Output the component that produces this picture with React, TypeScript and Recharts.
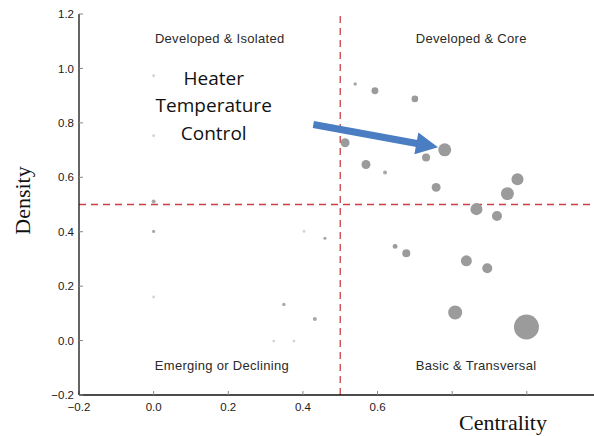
import { ScatterChart, Scatter, XAxis, YAxis, ZAxis, ReferenceLine, ReferenceDot } from "recharts";

// strategic diagram: centrality vs density, bubble weight ~ theme size
const xTicks = [-0.2, 0, 0.2, 0.4, 0.6, 0.8, 1.0];
const xTickLabels = ["−0.2", "0.0", "0.2", "0.4", "0.6", "", ""];
const yTicks = [-0.2, 0, 0.2, 0.4, 0.6, 0.8, 1.0, 1.2];
const yTickLabels = ["−0.2", "0.0", "0.2", "0.4", "0.6", "0.8", "1.0", "1.2"];

const majorThemes = [
  { centrality: 0.593, density: 0.918, weight: 12 },
  { centrality: 0.7, density: 0.888, weight: 11 },
  { centrality: 0.513, density: 0.727, weight: 20 },
  { centrality: 0.78, density: 0.701, weight: 42 },
  { centrality: 0.73, density: 0.673, weight: 16 },
  { centrality: 0.569, density: 0.647, weight: 20 },
  { centrality: 0.757, density: 0.563, weight: 20 },
  { centrality: 0.975, density: 0.593, weight: 36 },
  { centrality: 0.948, density: 0.54, weight: 42 },
  { centrality: 0.865, density: 0.483, weight: 36 },
  { centrality: 0.92, density: 0.458, weight: 25 },
  { centrality: 0.647, density: 0.346, weight: 6 },
  { centrality: 0.677, density: 0.321, weight: 16 },
  { centrality: 0.838, density: 0.293, weight: 30 },
  { centrality: 0.894, density: 0.266, weight: 25 },
  { centrality: 0.808, density: 0.103, weight: 49 },
  { centrality: 0.999, density: 0.05, weight: 156 },
];

const minorThemes = [
  { centrality: 0.54, density: 0.943, weight: 3 },
  { centrality: 0.62, density: 0.618, weight: 4 },
  { centrality: 0.0, density: 0.511, weight: 4 },
  { centrality: 0.0, density: 0.401, weight: 2.5 },
  { centrality: 0.459, density: 0.376, weight: 2.5 },
  { centrality: 0.349, density: 0.133, weight: 3 },
  { centrality: 0.432, density: 0.079, weight: 4 },
];

const faintThemes = [
  { centrality: 0.0, density: 0.973, weight: 2 },
  { centrality: 0.0, density: 0.753, weight: 2 },
  { centrality: 0.0, density: 0.16, weight: 2 },
  { centrality: 0.403, density: 0.401, weight: 2 },
  { centrality: 0.322, density: -0.002, weight: 2 },
  { centrality: 0.376, density: -0.002, weight: 2 },
];

const quadrants = [
  { name: "Developed & Isolated", centrality: 0.177, density: 1.11 },
  { name: "Developed & Core", centrality: 0.851, density: 1.11 },
  { name: "Emerging or Declining", centrality: 0.183, density: -0.09 },
  { name: "Basic & Transversal", centrality: 0.864, density: -0.09 },
];

const calloutLines = ["Heater", "Temperature", "Control"];
const calloutAt = { centrality: 0.161, density: 0.864 };
const arrowFrom = { centrality: 0.428, density: 0.794 };
const arrowTo = { centrality: 0.762, density: 0.71 };

const tickStyle = { fontFamily: "Liberation Sans, Arial, sans-serif", fontSize: 11.5, fill: "#1a1a1a" };

const Arrow = (p: any) => {
  const { x1, y1, x2, y2 } = p;
  const dx = x2 - x1;
  const dy = y2 - y1;
  const len = Math.sqrt(dx * dx + dy * dy);
  const ux = dx / len;
  const uy = dy / len;
  const headLen = 22;
  const bx = x2 - ux * headLen;
  const by = y2 - uy * headLen;
  const hw = 11;
  const pts = `${x2},${y2} ${bx - uy * hw},${by + ux * hw} ${bx + uy * hw},${by - ux * hw}`;
  return (
    <g>
      <line x1={x1} y1={y1} x2={bx + ux * 2} y2={by + uy * 2} stroke="#4a7dc2" strokeWidth={7} />
      <polygon points={pts} fill="#4a7dc2" />
    </g>
  );
};

export default function App() {
  return (
    <div style={{ position: "absolute", left: 0, top: 0, background: "#fff" }}>
      <ScatterChart width={594} height={436} margin={{ top: 14, right: 0, bottom: 0, left: 0 }}>
        <XAxis
          type="number"
          dataKey="centrality"
          domain={[-0.2, 1.18]}
          ticks={xTicks}
          tickFormatter={(_v: number, i: number) => xTickLabels[i]}
          allowDataOverflow
          height={41}
          axisLine={{ stroke: "#111", strokeWidth: 1.3 }}
          tickLine={{ stroke: "#888" }}
          tickSize={-4}
          tickMargin={12}
          tick={tickStyle}
          label={{
            content: ({ viewBox }: any) => (
              <text
                x={viewBox.x + 424}
                y={viewBox.y + 35}
                textAnchor="middle"
                fontFamily="Liberation Serif, Times New Roman, serif"
                fontSize={22}
                fill="#111"
              >
                Centrality
              </text>
            ),
          }}
        />
        <XAxis
          xAxisId="top"
          orientation="top"
          type="number"
          dataKey="centrality"
          domain={[-0.2, 1.18]}
          ticks={xTicks}
          tickFormatter={() => ""}
          allowDataOverflow
          height={0}
          mirror
          axisLine={{ stroke: "#c4c4c4", strokeWidth: 1.5 }}
          tickLine={{ stroke: "#aaa" }}
          tickSize={4}
        />
        <YAxis
          type="number"
          dataKey="density"
          domain={[-0.2, 1.2]}
          ticks={yTicks}
          tickFormatter={(_v: number, i: number) => yTickLabels[i]}
          allowDataOverflow
          width={79}
          axisLine={{ stroke: "#111", strokeWidth: 1.3 }}
          tickLine={{ stroke: "#888" }}
          tickSize={-4}
          tickMargin={9}
          tick={tickStyle}
          label={{
            content: ({ viewBox }: any) => (
              <text
                x={22}
                y={viewBox.y + viewBox.height / 2 - 4}
                transform={`rotate(-90 22 ${viewBox.y + viewBox.height / 2 - 4})`}
                textAnchor="middle"
                dominantBaseline="central"
                fontFamily="Liberation Serif, Times New Roman, serif"
                fontSize={22}
                fill="#111"
              >
                Density
              </text>
            ),
          }}
        />
        <ZAxis type="number" dataKey="weight" domain={[0, 160]} range={[0, 503]} />
        <ReferenceLine x={0.5} stroke="#cc3f44" strokeWidth={1.3} strokeDasharray="7 5" />
        <ReferenceLine y={0.5} stroke="#cc3f44" strokeWidth={1.3} strokeDasharray="7 5" />
        {quadrants.map((q) => (
          <ReferenceDot
            key={q.name}
            x={q.centrality}
            y={q.density}
            r={0}
            shape={(p: any) => (
              <text
                x={p.cx}
                y={p.cy}
                textAnchor="middle"
                dominantBaseline="central"
                fontFamily="Liberation Sans, Arial, sans-serif"
                fontSize={13}
                letterSpacing={0.3}
                fill="#2a2a2a"
              >
                {q.name}
              </text>
            )}
          />
        ))}
        <Scatter data={faintThemes} fill="#d2d2d2" isAnimationActive={false} />
        <Scatter data={minorThemes} fill="#a8a8a8" isAnimationActive={false} />
        <Scatter data={majorThemes} fill="#9b9b9b" isAnimationActive={false} />
        <ReferenceDot
          x={calloutAt.centrality}
          y={calloutAt.density}
          r={0}
          shape={(p: any) => (
            <text
              x={p.cx}
              y={p.cy}
              textAnchor="middle"
              dominantBaseline="central"
              fontFamily="Open Sans, Noto Sans, sans-serif"
              fontSize={19}
              fill="#111"
            >
              {calloutLines.map((line, i) => (
                <tspan key={line} x={p.cx} dy={i === 0 ? -27.5 : 27.5}>
                  {line}
                </tspan>
              ))}
            </text>
          )}
        />
        <ReferenceLine
          segment={[
            { x: arrowFrom.centrality, y: arrowFrom.density },
            { x: arrowTo.centrality, y: arrowTo.density },
          ]}
          shape={Arrow}
        />
      </ScatterChart>
    </div>
  );
}
